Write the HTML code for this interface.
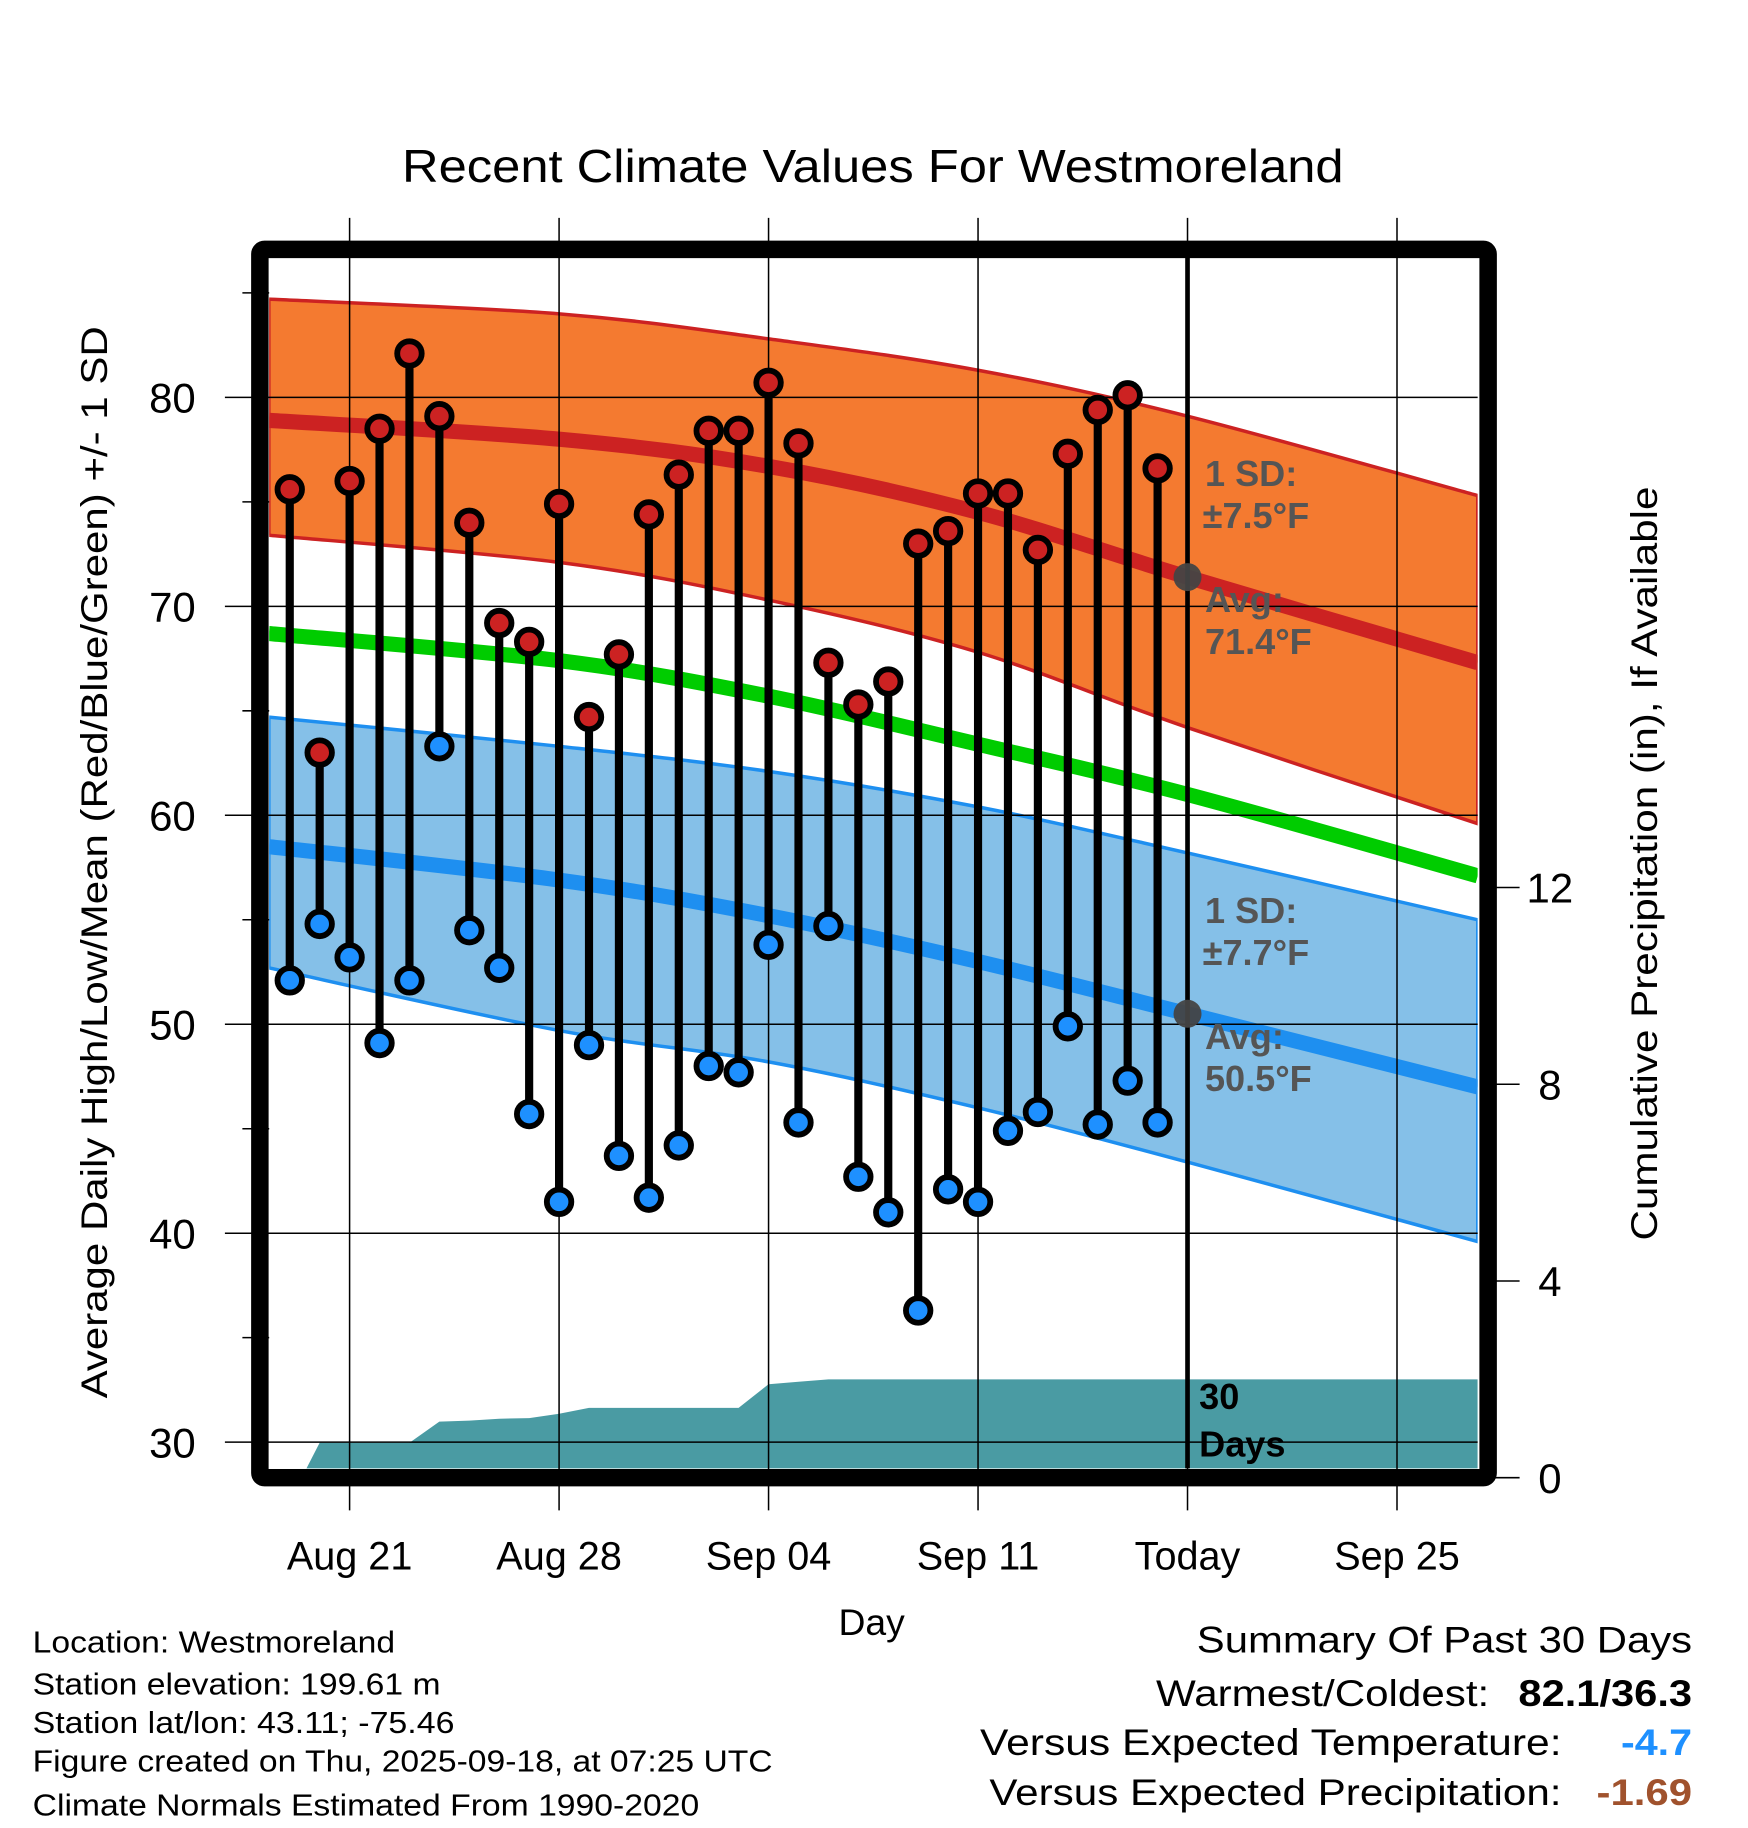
<!DOCTYPE html>
<html><head><meta charset="utf-8"><style>html,body{margin:0;padding:0;background:#fff}svg{display:block}text{font-family:"Liberation Sans",sans-serif}</style></head>
<body>
<svg id="chart" width="1748" height="1828" viewBox="0 0 1500 1568.6" preserveAspectRatio="none" xmlns="http://www.w3.org/2000/svg">
<text x="749" y="156" font-size="40" text-anchor="middle" textLength="808" lengthAdjust="spacingAndGlyphs">Recent Climate Values For Westmoreland</text>
<g id="plot"></g>
<text transform="translate(92,740) rotate(-90)" font-size="32" text-anchor="middle" textLength="920" lengthAdjust="spacingAndGlyphs">Average Daily High/Low/Mean (Red/Blue/Green) +/- 1 SD</text>
<text transform="translate(1422,741) rotate(-90)" font-size="32" text-anchor="middle" textLength="647" lengthAdjust="spacingAndGlyphs">Cumulative Precipitation (in), If Available</text>
<text x="748" y="1403" font-size="32" text-anchor="middle">Day</text>
<g font-size="26">
<text x="28" y="1418" textLength="311" lengthAdjust="spacingAndGlyphs">Location: Westmoreland</text>
<text x="28" y="1454" textLength="350" lengthAdjust="spacingAndGlyphs">Station elevation: 199.61 m</text>
<text x="28" y="1487" textLength="362" lengthAdjust="spacingAndGlyphs">Station lat/lon: 43.11; -75.46</text>
<text x="28" y="1520" textLength="635" lengthAdjust="spacingAndGlyphs">Figure created on Thu, 2025-09-18, at 07:25 UTC</text>
<text x="28" y="1558" textLength="572" lengthAdjust="spacingAndGlyphs">Climate Normals Estimated From 1990-2020</text>
</g>
<g font-size="32">
<text x="1027" y="1418" textLength="425" lengthAdjust="spacingAndGlyphs">Summary Of Past 30 Days</text>
<text x="992" y="1464" textLength="286" lengthAdjust="spacingAndGlyphs">Warmest/Coldest:</text>
<text x="1303" y="1464" font-weight="bold" textLength="149" lengthAdjust="spacingAndGlyphs">82.1/36.3</text>
<text x="841" y="1506" textLength="499" lengthAdjust="spacingAndGlyphs">Versus Expected Temperature:</text>
<text x="1391" y="1506" font-weight="bold" fill="#1e90ff" textLength="61" lengthAdjust="spacingAndGlyphs">-4.7</text>
<text x="849" y="1549" textLength="491" lengthAdjust="spacingAndGlyphs">Versus Expected Precipitation:</text>
<text x="1370" y="1549" font-weight="bold" fill="#a0522d" textLength="82" lengthAdjust="spacingAndGlyphs">-1.69</text>
</g>
</svg>
<script>
// data (day offsets from Aug 21)
const obsDays = [-2,-1,0,1,2,3,4,5,6,7,8,9,10,11,12,13,14,15,16,17,18,19,20,21,22,23,24,25,26,27];
const highs = [75.6,63.0,76.0,78.5,82.1,79.1,74.0,69.2,68.3,74.9,64.7,67.7,74.4,76.3,78.4,78.4,80.7,77.8,67.3,65.3,66.4,73.0,73.6,75.4,75.4,72.7,77.3,79.4,80.1,76.6];
const lows = [52.1,54.8,53.2,49.1,52.1,63.3,54.5,52.7,45.7,41.5,49.0,43.7,41.7,44.2,48.0,47.7,53.8,45.3,54.7,42.7,41.0,36.3,42.1,41.5,44.9,45.8,49.9,45.2,47.3,45.3];
const normDays = [-2.7,7,14,21,28,37.7];
const avgHigh = [78.9,78.0,76.7,74.5,71.4,67.3];
const highUpper = [84.7,84.0,82.8,81.3,79.1,75.3];
const highLower = [73.4,72.1,70.3,67.8,64.2,59.6];
const avgMean = [68.7,67.4,65.7,63.4,61.0,57.1];
const avgLow = [58.5,56.9,55.2,53.0,50.5,47.0];
const lowUpper = [64.7,63.3,62.1,60.4,58.2,55.0];
const lowLower = [52.7,49.7,48.2,46.0,43.4,39.6];
const precipDays = [-1.6,-1,0,1,2,3,4,5,6,7,8,9,10,11,12,13,14,15,16,17,28,37.7];
const precipCum = [0,0.71,0.71,0.71,0.71,1.14,1.16,1.20,1.21,1.30,1.42,1.42,1.42,1.42,1.42,1.42,1.90,1.95,2.0,2.0,2.0,2.0];
const yTicks = [30,40,50,60,70,80];
const yMinor = [35,45,55,65,75,85];
const y2Ticks = [0,4,8,12];
const xTickDays = [0,7,14,21,28,35];
const xTickLabels = ['Aug 21','Aug 28','Sep 04','Sep 11','Today','Sep 25'];

const X = d => 300 + 25.68*d;
const Y = t => 341 + (80 - t)*17.93;
const Y2 = p => 1268 - p*42.2;
const L = 231, R = 1268, T = 221, B = 1260;
const NS = 'http://www.w3.org/2000/svg';
const g = document.getElementById('plot');
function mk(tag, attrs, parent){const e=document.createElementNS(NS,tag);for(const k in attrs)e.setAttribute(k,attrs[k]);(parent||g).appendChild(e);return e;}
function pts(days, vals, f){return days.map((d,i)=>X(d).toFixed(1)+','+f(vals[i]).toFixed(1));}
// smooth curve through points (Catmull-Rom -> cubic bezier)
function smooth(days, vals, rev){
 let p = days.map((d,i)=>[X(d),Y(vals[i])]); if(rev) p=p.reverse();
 let s = (rev?'L':'M')+p[0][0].toFixed(1)+','+p[0][1].toFixed(1);
 for(let i=0;i<p.length-1;i++){
  const p0=p[Math.max(0,i-1)],p1=p[i],p2=p[i+1],p3=p[Math.min(p.length-1,i+2)];
  const c1=[p1[0]+(p2[0]-p0[0])/6,p1[1]+(p2[1]-p0[1])/6];
  const c2=[p2[0]-(p3[0]-p1[0])/6,p2[1]-(p3[1]-p1[1])/6];
  s+=' C'+c1.map(v=>v.toFixed(1)).join(',')+' '+c2.map(v=>v.toFixed(1)).join(',')+' '+p2.map(v=>v.toFixed(1)).join(',');
 }
 return s;
}

const clip = mk('clipPath',{id:'pc'}); mk('rect',{x:L,y:T,width:R-L,height:B-T},clip);
const inner = mk('g',{'clip-path':'url(#pc)'});

let e;
e = mk('path',{d:smooth(normDays,highUpper)+' '+smooth(normDays,highLower,true)+' Z',fill:'#f47a30',stroke:'#cc2222','stroke-width':3},inner);
 
e = mk('path',{d:smooth(normDays,lowUpper)+' '+smooth(normDays,lowLower,true)+' Z',fill:'#85c0e8',stroke:'#1e8ff0','stroke-width':3},inner);
 
e = mk('path',{d:smooth(normDays,avgHigh),fill:'none',stroke:'#cc2222','stroke-width':13},inner);
 
e = mk('path',{d:smooth(normDays,avgMean),fill:'none',stroke:'#00cc00','stroke-width':13},inner);
 
e = mk('path',{d:smooth(normDays,avgLow),fill:'none',stroke:'#1e8ff0','stroke-width':13},inner);
 
// precip area
const pp = pts(precipDays,precipCum,Y2);
e = mk('polygon',{points:pp.join(' ')+' '+X(precipDays[precipDays.length-1])+','+Y2(0)+' '+X(precipDays[0])+','+Y2(0),fill:'#4a9ba3'},inner);
 
// grid
yTicks.forEach(t=>{ e=mk('line',{x1:193,x2:R,y1:Y(t),y2:Y(t),stroke:'#000','stroke-width':1.3});
  
 e=mk('text',{x:168,y:Y(t)+13,'font-size':36,'text-anchor':'end'}); e.textContent=t;
  });
yMinor.forEach(t=>{ e=mk('line',{x1:208,x2:L,y1:Y(t),y2:Y(t),stroke:'#000','stroke-width':1.3});
  });
xTickDays.forEach((d,i)=>{ e=mk('line',{x1:X(d),x2:X(d),y1:187,y2:1296,stroke:'#000','stroke-width':1.3});
  
 e=mk('text',{x:X(d),y:1347,'font-size':34,'text-anchor':'middle'}); e.textContent=xTickLabels[i];
  });
y2Ticks.forEach(p=>{ e=mk('line',{x1:1280,x2:1304,y1:Y2(p),y2:Y2(p),stroke:'#000','stroke-width':1.3});
  
 e=mk('text',{x:1330,y:Y2(p)+13,'font-size':36,'text-anchor':'middle'}); e.textContent=p;
  });
// today line
e = mk('line',{x1:X(28),x2:X(28),y1:T,y2:B,stroke:'#000','stroke-width':4});
 
// lollipops
obsDays.forEach((d,i)=>{
 const x=X(d);
 e=mk('line',{x1:x,x2:x,y1:Y(highs[i]),y2:Y(lows[i]),stroke:'#000','stroke-width':7});
  
 e=mk('circle',{cx:x,cy:Y(highs[i]),r:10.5,fill:'#cc2222',stroke:'#000','stroke-width':5});
  
 e=mk('circle',{cx:x,cy:Y(lows[i]),r:10.5,fill:'#1e90ff',stroke:'#000','stroke-width':5});
  
});
// today markers
[avgHigh[4],avgLow[4]].forEach(v=>{ e=mk('circle',{cx:X(28),cy:Y(v),r:12,fill:'#444','fill-opacity':0.95});
  });
function lbl(txt,x,y,fill,name){ e=mk('text',{x:x,y:y,'font-size':31,'font-weight':'bold',fill:fill}); e.textContent=txt;
  }
lbl('1 SD:',1034,417,'#555','high-sd-label'); lbl('±7.5°F',1032,453,'#555','high-sd-value');
lbl('Avg:',1034,525,'#555','high-avg-label'); lbl('71.4°F',1034,561,'#555','high-avg-value');
lbl('1 SD:',1034,792,'#555','low-sd-label'); lbl('±7.7°F',1032,828,'#555','low-sd-value');
lbl('Avg:',1034,900,'#555','low-avg-label'); lbl('50.5°F',1034,936,'#555','low-avg-value');
lbl('30',1029,1209,'#000','days-count'); lbl('Days',1029,1250,'#000','days-label');
// border
e = mk('rect',{x:223,y:214,width:1054,height:1054,fill:'none',stroke:'#000','stroke-width':15,rx:4});
 
</script>
</body></html>
